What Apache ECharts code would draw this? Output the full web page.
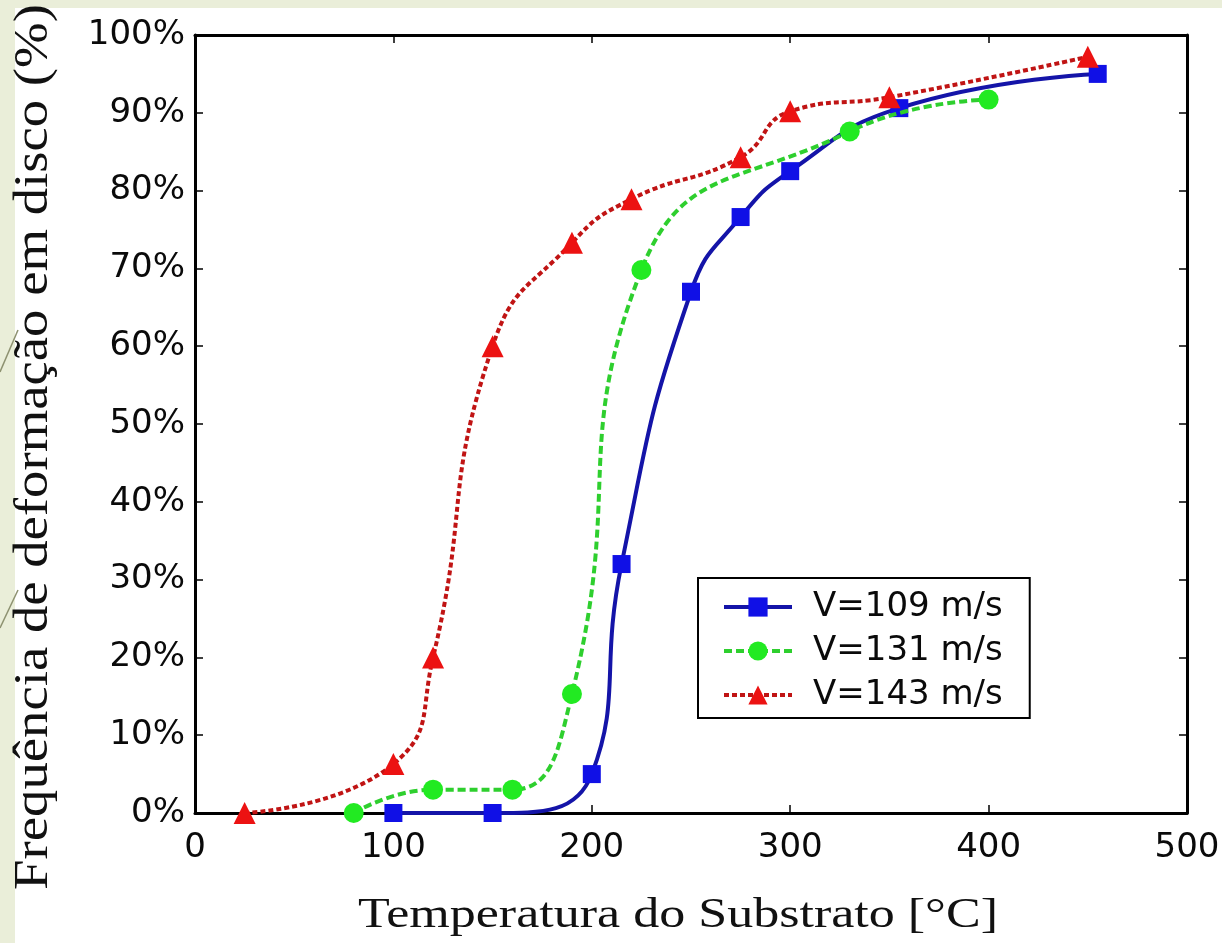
<!DOCTYPE html>
<html>
<head>
<meta charset="utf-8">
<script src="https://cdn.jsdelivr.net/npm/echarts@6/dist/echarts.min.js"></script>
<style>
  html, body { margin: 0; padding: 0; background: #fff; }
  #chart { width: 1222px; height: 943px; }
</style>
</head>
<body>
<div id="chart"></div>
<script>
// values
const temp109 = [100, 150, 200, 215, 250, 275, 300, 355, 455];
const freq109 = [0, 0, 5, 32, 67, 76.6, 82.5, 90.6, 95];

const temp131 = [80, 120, 160, 190, 225, 330, 400];
const freq131 = [0, 3, 3, 15.3, 69.8, 87.6, 91.7];

const temp143 = [25, 100, 120, 150, 190, 220, 275, 300, 350, 450];
const freq143 = [0, 6.3, 20, 60, 73.3, 78.9, 84.3, 90.2, 92, 97.2];

const seriesNames = ["V=109 m/s", "V=131 m/s", "V=143 m/s"];
const xTicks = [0, 100, 200, 300, 400, 500];
const yTicks = [0, 10, 20, 30, 40, 50, 60, 70, 80, 90, 100];

const xTitle = "Temperatura do Substrato [°C]";
const yTitle = "Frequência de deformação em disco (%)";

const zip = (xs, ys) => xs.map((x, i) => [x, ys[i]]);

const tickFont = { fontFamily: "DejaVu Sans", fontSize: 34, color: "#0a0a0a" };
const boxLine = { show: true, onZero: false, lineStyle: { color: "#000", width: 3 } };
const innerTick = { show: true, inside: true, length: 8, lineStyle: { color: "#000", width: 1.5 } };

const chart = echarts.init(document.getElementById("chart"));

let option = {
  backgroundColor: "#fff",
  animation: false,
  grid: {
    left: 195,
    right: 35,
    top: 35,
    bottom: 130,
    containLabel: false,
    outerBoundsMode: "none",
  },
  legend: {
    data: seriesNames,
    orient: "vertical",
    left: 698,
    top: 578,
    backgroundColor: "#fff",
    borderColor: "#000",
    borderWidth: 2,
    borderRadius: 0,
    padding: [12, 27, 6, 24],
    itemWidth: 68,
    itemHeight: 24,
    itemGap: 10,
    lineStyle: { width: 4 },
    textStyle: {
      fontFamily: "DejaVu Sans",
      fontSize: 34,
      lineHeight: 34,
      color: "#0a0a0a",
      padding: [0, 0, 0, 16],
    },
  },
  xAxis: [
    {
      type: "value",
      min: xTicks[0],
      max: xTicks[xTicks.length - 1],
      interval: 100,
      axisLine: boxLine,
      axisTick: innerTick,
      splitLine: { show: false },
      axisLabel: { ...tickFont, margin: 18, showMaxLabel: true },
    },
    {
      type: "value",
      position: "top",
      min: xTicks[0],
      max: xTicks[xTicks.length - 1],
      interval: 100,
      axisLine: boxLine,
      axisTick: innerTick,
      splitLine: { show: false },
      axisLabel: { show: false },
    },
  ],
  yAxis: [
    {
      type: "value",
      min: yTicks[0],
      max: yTicks[yTicks.length - 1],
      interval: 10,
      axisLine: boxLine,
      axisTick: innerTick,
      splitLine: { show: false },
      axisLabel: { ...tickFont, margin: 10, formatter: "{value}%" },
    },
    {
      type: "value",
      position: "right",
      min: yTicks[0],
      max: yTicks[yTicks.length - 1],
      interval: 10,
      axisLine: boxLine,
      axisTick: innerTick,
      splitLine: { show: false },
      axisLabel: { show: false },
    },
  ],
  series: [
    {
      name: seriesNames[0],
      type: "line",
      data: zip(temp109, freq109),
      smooth: 0.5,
      symbol: "rect",
      symbolSize: 18,
      lineStyle: { color: "#1414a8", width: 4 },
      itemStyle: { color: "#1010e6" },
      z: 3,
    },
    {
      name: seriesNames[1],
      type: "line",
      data: zip(temp131, freq131),
      smooth: 0.5,
      symbol: "circle",
      symbolSize: 20,
      lineStyle: { color: "#2ecf2e", width: 4, type: [8, 4] },
      itemStyle: { color: "#22ea22" },
      z: 4,
    },
    {
      name: seriesNames[2],
      type: "line",
      data: zip(temp143, freq143),
      smooth: 0.5,
      symbol: "triangle",
      symbolSize: 22,
      lineStyle: { color: "#c01414", width: 4, type: [5, 3] },
      itemStyle: { color: "#ec1212" },
      z: 5,
    },
  ],
  graphic: [
    // slide background strips
    { type: "rect", shape: { x: 0, y: 0, width: 15, height: 943 }, style: { fill: "#eaeed9" }, z: -10 },
    { type: "rect", shape: { x: 0, y: 0, width: 1222, height: 8 }, style: { fill: "#eaeed9" }, z: -10 },
    { type: "line", shape: { x1: 18, y1: 330, x2: 0, y2: 372 }, style: { stroke: "#8d9170", lineWidth: 1.5 }, z: -9 },
    { type: "line", shape: { x1: 18, y1: 590, x2: 0, y2: 628 }, style: { stroke: "#8d9170", lineWidth: 1.5 }, z: -9 },
    // axis titles (stretched like the source image)
    {
      type: "text",
      x: 678,
      y: 916,
      scaleX: 1.21,
      style: {
        text: xTitle,
        fontFamily: "Liberation Serif",
        fontSize: 43,
        fill: "#111",
        textAlign: "center",
        textVerticalAlign: "middle",
      },
    },
    {
      type: "text",
      x: 34,
      y: 447,
      rotation: Math.PI / 2,
      scaleX: 1.14,
      style: {
        text: yTitle,
        fontFamily: "Liberation Serif",
        fontSize: 48,
        fill: "#111",
        textAlign: "center",
        textVerticalAlign: "middle",
      },
    },
  ],
};

chart.setOption(option);
</script>
</body>
</html>
